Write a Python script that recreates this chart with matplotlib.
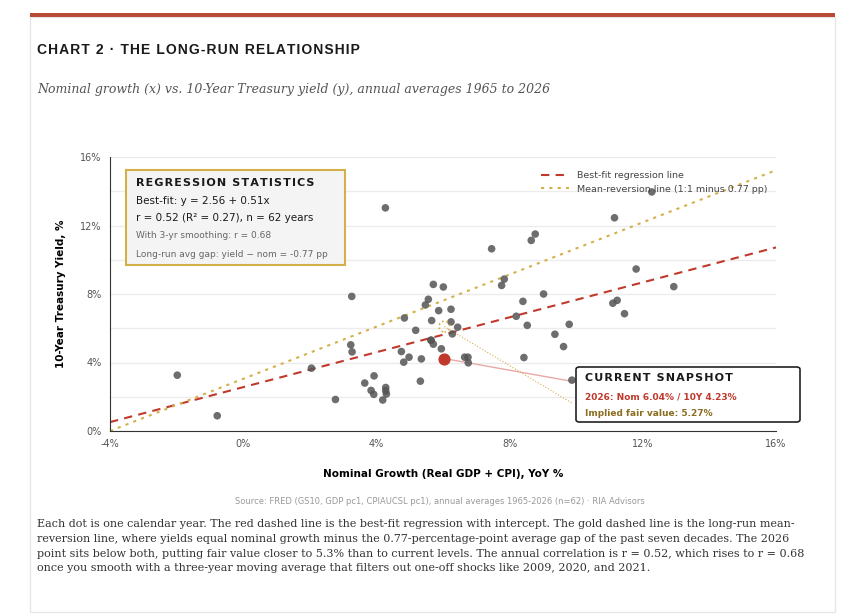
import matplotlib
matplotlib.use("Agg")
import matplotlib.pyplot as plt
from matplotlib.patches import Rectangle, FancyBboxPatch

nominal = [-1.98,-0.78,2.05,2.77,3.23,3.27,3.26,3.65,3.84,3.93,3.92,4.19,4.28,4.28,4.30,4.27,
           4.75,4.82,4.84,4.98,5.18,5.32,5.35,5.47,5.56,5.66,5.64,5.71,5.71,5.87,5.95,6.01,
           6.24,6.24,6.28,6.44,6.65,6.75,6.76,7.46,7.76,7.84,8.20,8.40,8.43,8.53,8.65,8.77,
           9.02,9.36,9.62,9.79,9.87,11.10,11.23,11.15,11.45,11.80,12.27,12.93,5.64]
yields = [3.26,0.89,3.67,1.84,5.03,4.62,7.86,2.80,2.37,3.22,2.14,1.81,2.54,2.35,2.16,13.03,
          4.64,4.02,6.60,4.31,5.88,2.91,4.21,7.36,7.69,6.45,5.30,5.07,8.56,7.03,4.80,8.41,
          7.11,6.37,5.67,6.06,4.31,4.31,3.98,10.64,8.50,8.87,6.70,7.57,4.29,6.17,11.13,11.50,
          8.00,5.65,4.93,6.23,2.97,7.46,7.63,12.45,6.85,9.46,13.96,8.43,5.30]
cur_x, cur_y = 6.04, 4.23
fair_y = 6.1
intercept, slope = 2.56, 0.51
gap = -0.77
xticks = [-4, 0, 4, 8, 12, 16]
yticks = [0, 4, 8, 12, 16]

W, H = 845, 615
fig = plt.figure(figsize=(W/100, H/100), dpi=100)
def fx(p): return p / W
def fy(p): return 1 - p / H

fig.patches.append(Rectangle((fx(30), fy(612)), fx(805), (612-17)/H, transform=fig.transFigure,
                             facecolor='white', edgecolor='#e6e6e6', lw=1, zorder=-5))
fig.patches.append(Rectangle((fx(30), fy(17)), fx(805), 4/H, transform=fig.transFigure,
                             facecolor='#b84a36', edgecolor='none', zorder=-4))
title = "CHART 2 · THE LONG-RUN RELATIONSHIP"
fig.text(fx(37), fy(50), "\u200a".join(title), fontsize=10, fontweight='bold',
         family='Liberation Sans', color='#1a1a1a', va='center')
fig.text(fx(37), fy(90), "Nominal growth (x) vs. 10-Year Treasury yield (y), annual averages 1965 to 2026",
         fontsize=9.0, style='italic', family='DejaVu Serif', color='#555555', va='center')

ax = fig.add_axes([fx(110), fy(431), 666/W, 274/H])
ax.set_xlim(-4, 16); ax.set_ylim(0, 16)
ax.set_xticks(xticks); ax.set_xticklabels([f"{t}%" for t in xticks])
ax.set_yticks(yticks); ax.set_yticklabels([f"{t}%" for t in yticks])
ax.set_yticks([2, 6, 10, 14], minor=True)
ax.grid(True, which='both', axis='y', color='#ececec', lw=1)
ax.tick_params(labelsize=7, colors='#555555', length=0, pad=6)
ax.tick_params(which='minor', length=0)
for s in ['top', 'right']: ax.spines[s].set_visible(False)
ax.spines['left'].set_color('#333333'); ax.spines['bottom'].set_color('#333333')
ax.set_axisbelow(True)
ax.patch.set_alpha(0)

ax.scatter(nominal, yields, s=30, color='#555555', alpha=0.85, edgecolor='none', zorder=3)
xs = [-4, 16]
ax.plot(xs, [intercept + slope*x for x in xs], ls=(0, (4, 3)), color='#c0392b', lw=1.5,
        label='Best-fit regression line', zorder=2)
ax.plot(xs, [0, xs[1] + gap], ls=(0, (1.5, 2.5)), color='#d4b04a', lw=1.5,
        label='Mean-reversion line (1:1 minus 0.77 pp)', zorder=2)
ax.scatter([cur_x], [cur_y], s=60, color='#c0392b', zorder=5)
ax.scatter([cur_x], [fair_y], s=60, facecolor='none', edgecolor='#d4b04a', ls=':', lw=1.2, zorder=4)
ax.plot([cur_x, 9.96], [cur_y, 2.87], color='#e8a8a8', lw=1, zorder=2)
ax.plot([cur_x, 9.9], [fair_y, 1.6], color='#d4b04a', lw=0.8, ls=':', zorder=2)
ax.legend(loc='upper right', bbox_to_anchor=(1.0, 0.98), frameon=False, fontsize=6.8,
          handlelength=3, labelcolor='#444444')

ax.set_xlabel("Nominal Growth (Real GDP + CPI), YoY %", fontsize=7.5, fontweight='bold', labelpad=14)
ax.set_ylabel("10-Year Treasury Yield, %", fontsize=7.5, fontweight='bold', labelpad=10)

fig.patches.append(Rectangle((fx(126), fy(265)), 219/W, 95/H, transform=fig.transFigure,
                             facecolor='#f4f4f4', edgecolor='#d4b04a', lw=1.5, zorder=5))
fig.text(fx(136), fy(183), "\u200a".join("REGRESSION STATISTICS"), fontsize=8, fontweight='bold',
         color='#1a1a1a', va='center', zorder=6)
fig.text(fx(136), fy(201), "Best-fit: y = 2.56 + 0.51x", fontsize=7.5, color='#1a1a1a', va='center', zorder=6)
fig.text(fx(136), fy(218), "r = 0.52 (R² = 0.27), n = 62 years", fontsize=7.5, color='#1a1a1a', va='center', zorder=6)
fig.text(fx(136), fy(236), "With 3-yr smoothing: r = 0.68", fontsize=6.5, color='#666666', va='center', zorder=6)
fig.text(fx(136), fy(254), "Long-run avg gap: yield − nom = -0.77 pp", fontsize=6.5, color='#666666', va='center', zorder=6)

fig.patches.append(FancyBboxPatch((fx(576), fy(422)), 224/W, 55/H, transform=fig.transFigure,
                                  boxstyle='round,pad=0,rounding_size=0.004',
                                  facecolor='white', edgecolor='#222222', lw=1.2, zorder=5))
fig.text(fx(585), fy(378), "\u200a".join("CURRENT SNAPSHOT"), fontsize=8, fontweight='bold', color='#1a1a1a',
         va='center', zorder=6)
fig.text(fx(585), fy(397), "2026: Nom 6.04% / 10Y 4.23%", fontsize=6.5, fontweight='bold',
         color='#c0392b', va='center', zorder=6)
fig.text(fx(585), fy(414), "Implied fair value: 5.27%", fontsize=6.5, fontweight='bold',
         color='#8a6d1e', va='center', zorder=6)

fig.text(fx(440), fy(501), "Source: FRED (GS10, GDP pc1, CPIAUCSL pc1), annual averages 1965-2026 (n=62) · RIA Advisors",
         fontsize=6, color='#999999', ha='center', va='center')
caption = ("Each dot is one calendar year. The red dashed line is the best-fit regression with intercept. The gold dashed line is the long-run mean-\n"
           "reversion line, where yields equal nominal growth minus the 0.77-percentage-point average gap of the past seven decades. The 2026\n"
           "point sits below both, putting fair value closer to 5.3% than to current levels. The annual correlation is r = 0.52, which rises to r = 0.68\n"
           "once you smooth with a three-year moving average that filters out one-off shocks like 2009, 2020, and 2021.")
fig.text(fx(37), fy(519), caption, fontsize=8.0, family='DejaVu Serif', color='#333333',
         va='top', linespacing=1.6)

fig.savefig("out.png", dpi=100)
